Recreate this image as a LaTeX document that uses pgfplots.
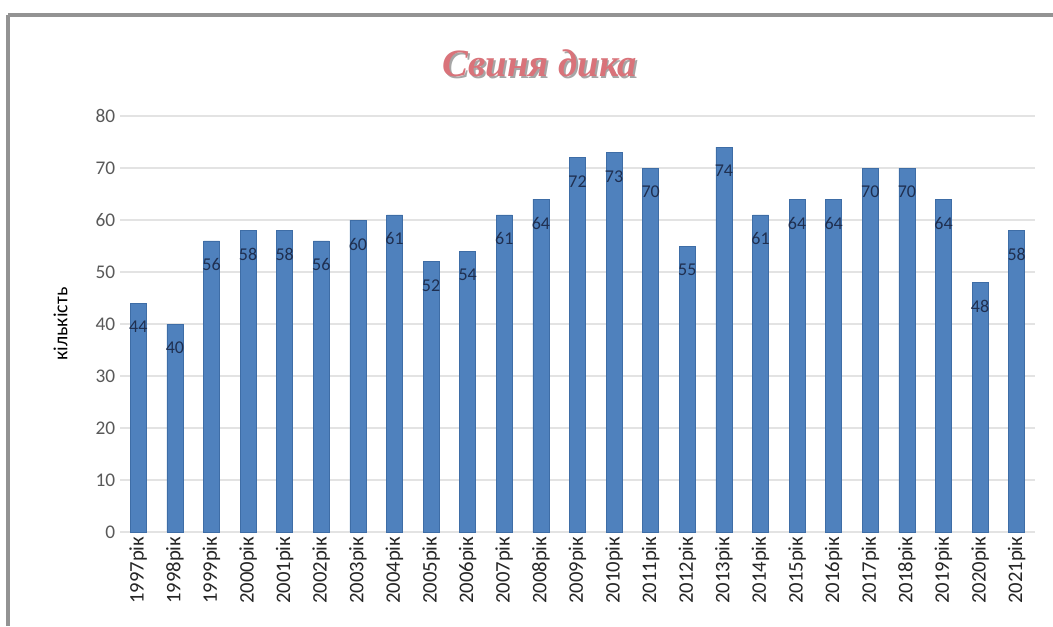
\documentclass[border=0pt]{standalone}
\usepackage{pgfplots}
\pgfplotsset{compat=1.18}
\usepackage{fontspec}
\setmainfont{Carlito}
\newfontfamily\titlefont{Liberation Serif}
\definecolor{barblue}{HTML}{4F81BD}
\definecolor{baredge}{HTML}{3E6DA6}
\definecolor{lblcol}{HTML}{1F2F50}
\definecolor{titlered}{HTML}{D9737A}
\definecolor{gridgray}{HTML}{E3E3E3}
\definecolor{tickgray}{HTML}{595959}
\begin{document}
\begin{tikzpicture}
\useasboundingbox (0pt,0pt) rectangle (789.75pt,469.5pt);
\fill[white] (0pt,0pt) rectangle (789.75pt,469.5pt);
% frame of the screenshot
\draw[line width=3pt, gray!85] (6pt,458.25pt) -- (789.75pt,458.25pt);
\draw[line width=2.5pt, gray!85] (6pt,458.25pt) -- (6pt,0pt);
% title
\node[text=gray!70, font=\titlefont\itshape\bfseries\fontsize{29}{32}\selectfont] at (406.2pt,420.5pt) {Свиня дика};
\node[text=titlered, font=\titlefont\itshape\bfseries\fontsize{29}{32}\selectfont] at (405pt,421.7pt) {Свиня дика};
\begin{axis}[
  at={(90pt,70.5pt)}, anchor=south west,
  scale only axis, width=686.25pt, height=312pt,
  xmin=-0.5, xmax=24.5, ymin=0, ymax=80,
  ytick={0,10,...,80},
  xtick={0,...,24},
  xticklabels={1997рік,1998рік,1999рік,2000рік,2001рік,2002рік,2003рік,2004рік,2005рік,2006рік,2007рік,2008рік,2009рік,2010рік,2011рік,2012рік,2013рік,2014рік,2015рік,2016рік,2017рік,2018рік,2019рік,2020рік,2021рік},
  x tick label style={rotate=90, anchor=east, font=\fontsize{15.5}{17}\selectfont, text=black!85},
  y tick label style={font=\fontsize{14.5}{16}\selectfont, text=tickgray},
  /pgf/number format/assume math mode=true,
  major tick length=0pt,
  axis line style={draw=none},
  ymajorgrids, grid style={gridgray, line width=0.8pt},
  ylabel={кількість},
  ylabel style={at={(rel axis cs:-0.065,0.5)}, anchor=center, font=\fontsize{15}{17}\selectfont, text=black},
  clip=false,
]
\draw[gridgray, line width=0.8pt] (axis cs:-0.5,0) -- (axis cs:24.5,0);
\addplot[ybar, bar width=12pt, fill=barblue, draw=baredge,
  nodes near coords, point meta=explicit symbolic,
  nodes near coords style={anchor=center, yshift=-18pt, text=lblcol, font=\fontsize{13.5}{15}\selectfont}]
 table[meta=v] {
x y v
0 44 44
1 40 40
2 56 56
3 58 58
4 58 58
5 56 56
6 60 60
7 61 61
8 52 52
9 54 54
10 61 61
11 64 64
12 72 72
13 73 73
14 70 70
15 55 55
16 74 74
17 61 61
18 64 64
19 64 64
20 70 70
21 70 70
22 64 64
23 48 48
24 58 58
};
\end{axis}
\end{tikzpicture}
\end{document}
